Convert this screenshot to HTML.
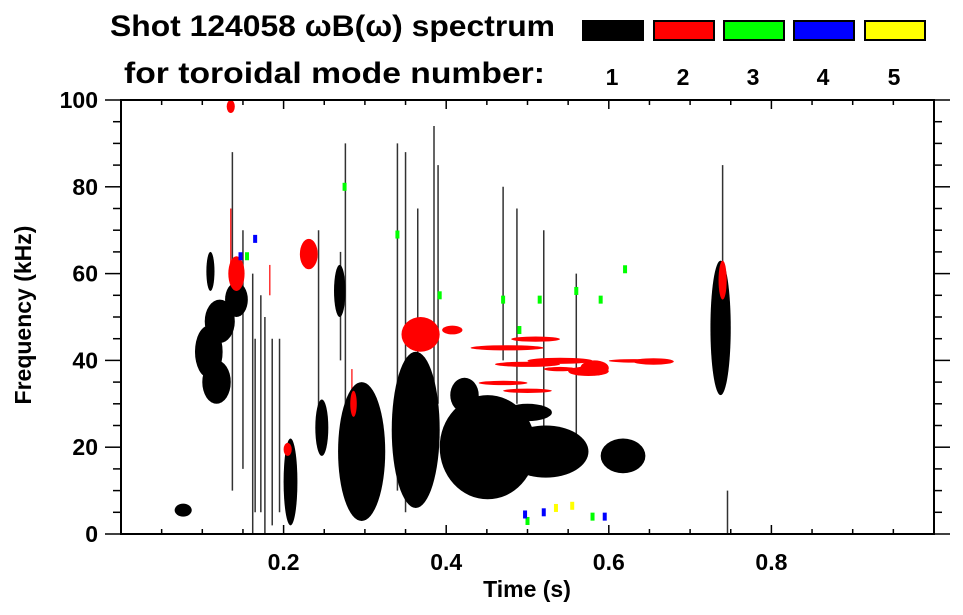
<!DOCTYPE html>
<html><head><meta charset="utf-8">
<style>
body{margin:0;background:#fff;}
svg{display:block;font-family:"Liberation Sans",sans-serif;font-weight:bold;}
</style></head>
<body>
<svg id="chart" width="963" height="615" viewBox="0 0 963 615" xmlns="http://www.w3.org/2000/svg">
<text x="110" y="36" font-size="30" textLength="445" lengthAdjust="spacingAndGlyphs">Shot 124058 ωB(ω) spectrum</text>
<text x="124" y="83" font-size="30" textLength="421" lengthAdjust="spacingAndGlyphs">for toroidal mode number:</text>
<g id="legend"></g>
<g id="marks"></g>
<g id="axes"></g>
<text x="527" y="597" font-size="23" text-anchor="middle">Time (s)</text>
<text transform="translate(31,315) rotate(-90)" font-size="23" text-anchor="middle">Frequency (kHz)</text>
</svg>
<script>
const modeNames=['1','2','3','4','5'];
const modeColors=['#000','#f00','#0f0','#00f','#ff0'];
const xTicks=[0.2,0.4,0.6,0.8];
const yTicks=[0,20,40,60,80,100];
// blobs: mode index, t start, t end, f low, f high (kHz)
const blobMode=[0,0,0,0,0,0,0,0,0,0,0,0,0,0,0,0,0,0,0,0, 1,1,1,1,1,1,1,1,1,1,1,1,1,1,1,1,1,1,1];
const blobT0=[.066,.091,.103,.128,.105,.200,.239,.262,.267,.275,.333,.338,.392,.470,.590,.470,.725,.728,.100,.405,
  .22,.132,.345,.480,.43,.46,.50,.55,.44,.47,.63,.735,.282,.565,.52,.395,.13,.20,.60];
const blobT1=[.087,.125,.140,.156,.115,.217,.255,.276,.325,.318,.392,.386,.510,.575,.645,.530,.750,.745,.135,.440,
  .242,.152,.392,.540,.52,.54,.58,.60,.50,.53,.68,.745,.290,.600,.56,.42,.14,.21,.66];
const blobF0=[4,36,44,50,56,2,18,50,3,8,6,10,8,13,14,26,32,38,30,28,
  61,56,42,44.3,42.3,38.5,39.2,36.4,34.3,32.5,39,54,27,36.5,37.5,46,97,18,39.5];
const blobF1=[7,48,54,58,65,22,31,62,35,27,42,38,32,25,22,30,63,58,40,36,
  68,64,50,45.5,43.5,39.7,40.6,38.6,35.3,33.5,40.5,63,33,40,38.5,48,100,21,40.3];
// thin vertical streaks: mode, time, f low, f high
const streakMode=[0,0,0,0,0,0,0,0,0,0,0,0,0,0,0,0,0,0,0,0,0,0,1,1,1];
const streakT=[.137,.150,.162,.172,.177,.186,.195,.270,.276,.340,.350,.365,.385,.390,.470,.487,.520,.560,.740,.746,.165,.243,.183,.284,.135];
const streakF0=[10,15,0,5,0,2,5,40,20,10,5,30,20,30,40,30,20,18,60,0,5,20,55,25,60];
const streakF1=[88,70,60,55,50,45,45,65,90,90,88,75,94,85,80,75,70,60,85,10,45,70,62,38,75];
// small dots: mode, time, freq
const dotMode=[2,2,2,2,2,2,2,2,2,2,2,2,3,3,3,3,3,4,4];
const dotT=[.155,.275,.340,.392,.470,.515,.590,.490,.560,.580,.500,.620,.165,.147,.497,.520,.595,.535,.555];
const dotF=[64,80,69,55,54,54,54,47,56,4,3,61,68,64,4.5,5,4,6,6.5];

const svg=document.getElementById('chart');
const NS='http://www.w3.org/2000/svg';
const L=121,R=934,T=100,B=534;
const xs=t=>L+t*(R-L);
const ys=f=>B-f*(B-T)/100;
function mk(tag,attrs,parent){const e=document.createElementNS(NS,tag);for(const k in attrs)e.setAttribute(k,attrs[k]);parent.appendChild(e);return e;}
const marks=document.getElementById('marks');
for(let i=0;i<streakT.length;i++){
  const e=mk('line',{x1:xs(streakT[i]),x2:xs(streakT[i]),y1:ys(streakF0[i]),y2:ys(streakF1[i]),stroke:modeColors[streakMode[i]],'stroke-width':1.5,opacity:0.8},marks);
  
  
}
for(let i=0;i<blobT0.length;i++){
  const x0=xs(blobT0[i]),x1=xs(blobT1[i]),y0=ys(blobF1[i]),y1=ys(blobF0[i]);
  const e=mk('ellipse',{cx:(x0+x1)/2,cy:(y0+y1)/2,rx:(x1-x0)/2,ry:(y1-y0)/2,fill:modeColors[blobMode[i]]},marks);
  
  
}
for(let i=0;i<dotT.length;i++){
  const e=mk('rect',{x:xs(dotT[i])-2,y:ys(dotF[i])-4,width:4,height:8,fill:modeColors[dotMode[i]]},marks);
  
  
}
// axes
const ax=document.getElementById('axes');
mk('rect',{x:L,y:T,width:R-L,height:B-T,fill:'none',stroke:'#000','stroke-width':2},ax);
for(let t=0.05;t<1;t+=0.05){
  const major=Math.abs(t/0.2-Math.round(t/0.2))<1e-6;
  const x=xs(t),len=major?9:5;
  mk('line',{x1:x,x2:x,y1:B,y2:B-len,stroke:'#000','stroke-width':1.5},ax);
  mk('line',{x1:x,x2:x,y1:T,y2:T+len,stroke:'#000','stroke-width':1.5},ax);
}
for(let f=5;f<100;f+=5){
  const major=f%20===0,y=ys(f),len=major?16:8;
  mk('line',{x1:L,x2:L-len,y1:y,y2:y,stroke:'#000','stroke-width':1.5},ax);
  mk('line',{x1:R,x2:R+len,y1:y,y2:y,stroke:'#000','stroke-width':1.5},ax);
}
mk('line',{x1:L,x2:L-16,y1:T,y2:T,stroke:'#000','stroke-width':1.5},ax);
mk('line',{x1:L,x2:L-16,y1:B,y2:B,stroke:'#000','stroke-width':1.5},ax);
mk('line',{x1:R,x2:R+16,y1:T,y2:T,stroke:'#000','stroke-width':1.5},ax);
mk('line',{x1:R,x2:R+16,y1:B,y2:B,stroke:'#000','stroke-width':1.5},ax);
xTicks.forEach(t=>{
  const e=mk('text',{x:xs(t),y:570,'font-size':23,'text-anchor':'middle'},ax);e.textContent=String(t);
  
  
});
yTicks.forEach(f=>{
  const e=mk('text',{x:98,y:ys(f)+8,'font-size':23,'text-anchor':'end'},ax);e.textContent=String(f);
  
  
});
// legend
const lg=document.getElementById('legend');
const lgX=[582,653,723,793,864];
modeNames.forEach((m,i)=>{
  const r=mk('rect',{x:lgX[i]+1,y:21,width:60,height:19,fill:modeColors[i],stroke:'#000','stroke-width':2},lg);
  
  
  const t=mk('text',{x:lgX[i]+30,y:85,'font-size':23,'text-anchor':'middle'},lg);t.textContent=m;
  
  
});
</script>
</body></html>
